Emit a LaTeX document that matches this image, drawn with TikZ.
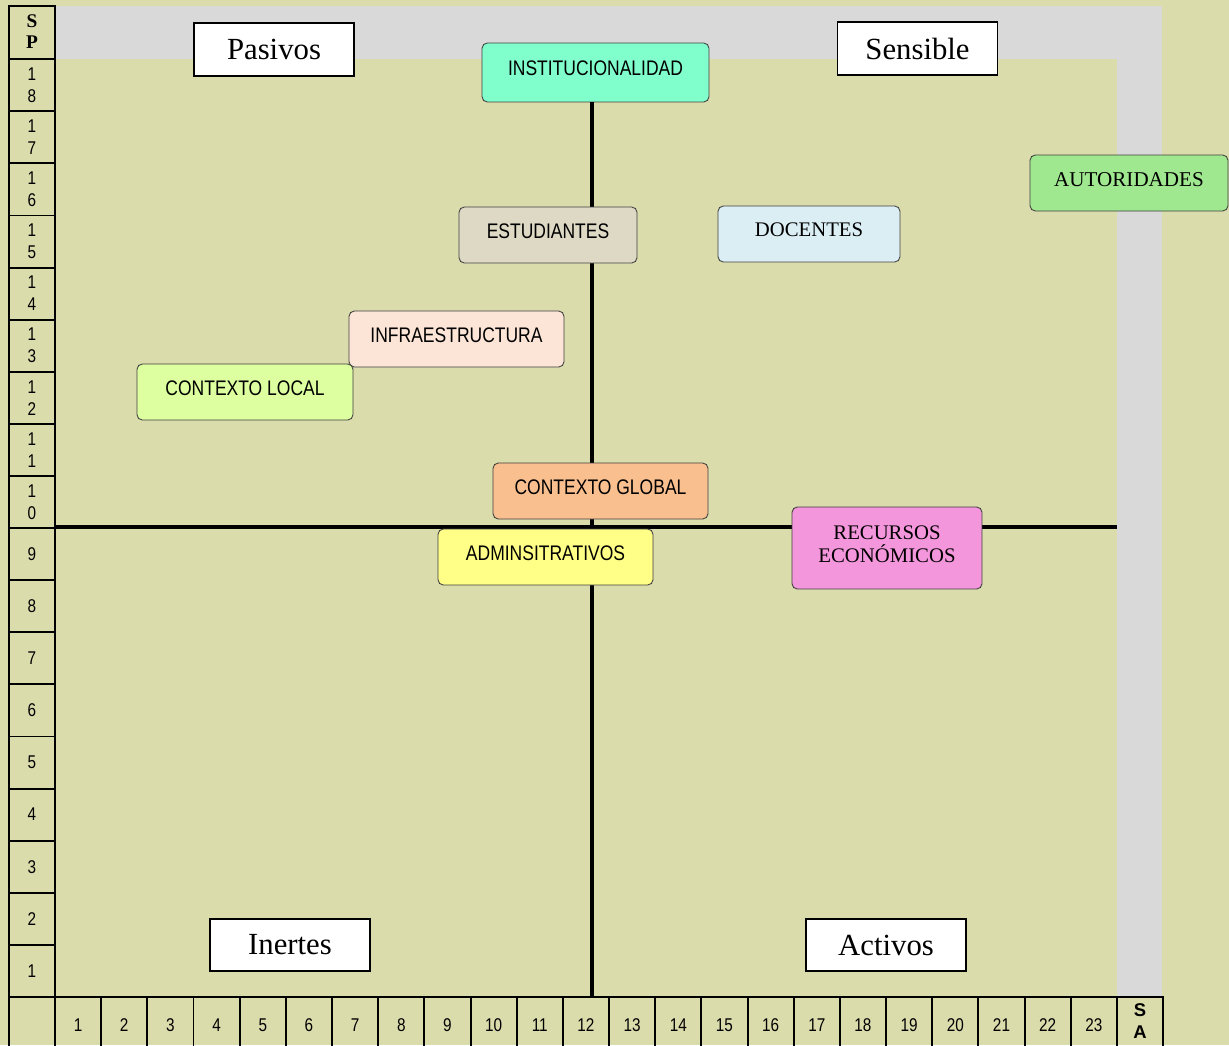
\documentclass[tikz,border=0pt]{standalone}
\usepackage{fontspec}
\setmainfont{Liberation Serif}
\newfontfamily\narrowsans[FakeStretch=0.83]{Liberation Sans}
\newfontfamily\plainsans{Liberation Sans}
\usepackage{xcolor}

\definecolor{olivebg}{RGB}{219,220,172}
\definecolor{greyframe}{RGB}{217,217,217}
\definecolor{instcol}{RGB}{128,255,204}
\definecolor{autorcol}{RGB}{160,232,144}
\definecolor{estudcol}{RGB}{221,217,196}
\definecolor{docencol}{RGB}{219,238,244}
\definecolor{infracol}{RGB}{252,229,214}
\definecolor{localcol}{RGB}{221,255,160}
\definecolor{globalcol}{RGB}{250,191,143}
\definecolor{admincol}{RGB}{255,255,136}
\definecolor{recurcol}{RGB}{244,150,220}

\tikzset{
  cell/.style={draw=black, line width=1.1pt},
  num/.style={inner sep=0pt, align=center, font=\narrowsans\fontsize{10.5}{12.5}\selectfont},
  quadrant/.style={draw=black, line width=1pt, fill=white, inner sep=0pt,
    minimum width=3.2cm, minimum height=1.05cm, font=\fontsize{17.5}{20}\selectfont},
  actor/.style={draw=black!75, rounded corners=3pt, line width=0.5pt, inner sep=0pt,
    minimum height=1.12cm, align=center, text depth=4.5pt},
  sanslabel/.style={font=\narrowsans\fontsize{12}{14}\selectfont},
  seriflabel/.style={font=\fontsize{11.8}{13.5}\selectfont},
  axis/.style={draw=black, line width=2.3pt}
}

\begin{document}
\begin{tikzpicture}[x=0.02cm, y=-0.02cm]
    \useasboundingbox (0,0) rectangle (1229,1045);
    % Background
    \fill[olivebg] (0,0) rectangle (1229,1045);
    \fill[greyframe] (55,6) rectangle (1162,997);
    \fill[olivebg] (55,59) rectangle (1117,997);

    % Left scale
    \draw[cell] (9,6) rectangle (55,59);
    \node[num, font=\bfseries\fontsize{11}{12}\selectfont] (sp) at (32,32) {S\\P};
    \foreach \i in {1,...,18} {
        \draw[cell] (9,{997-52.1*\i}) rectangle (55,{997-52.1*(\i-1)});
    }
    \foreach \i in {1,...,9} {
        \node[num] (r\i) at (32,{997-52.1*\i+26}) {\i};
    }
    \foreach \i/\d in {10/0,11/1,12/2,13/3,14/4,15/5,16/6,17/7,18/8} {
        \node[num] (r\i) at (32,{997-52.1*\i+26}) {1\\\d};
    }

    % Bottom scale
    \draw[cell] (9,997) rectangle (55,1050);
    \foreach \j in {1,...,24} {
        \draw[cell] ({55+46.17*(\j-1)},997) rectangle ({55+46.17*\j},1050);
    }
    \foreach \j in {1,...,23} {
        \node[num] (c\j) at ({55+46.17*(\j-0.5)},1025) {\j};
    }
    \node[num, font=\plainsans\bfseries\fontsize{10.5}{12}\selectfont] (sa) at ({55+46.17*23.5},1021) {S\\A};

    % Axes
    \coordinate (vbot) at (592,997);
    \coordinate (hleft) at (55,527);
    \coordinate (hright) at (1117,527);
    \node[actor, sanslabel, fill=instcol, minimum width=4.54cm, minimum height=1.18cm] (inst) at (595.5,72.5) {INSTITUCIONALIDAD};
    \draw[axis] (inst.south -| vbot) -- (vbot);
    \draw[axis] (hleft) -- (hright);

    % Quadrant labels
    \node[quadrant] (pasivos) at (274,49.5) {Pasivos};
    \node[quadrant] (sensible) at (917.5,48.5) {Sensible};
    \node[quadrant] (inertes) at (290,945) {Inertes};
    \node[quadrant] (activos) at (886,945) {Activos};

    % Actors
    \node[actor, seriflabel, fill=autorcol, minimum width=3.96cm, font=\fontsize{12}{14}\selectfont] (autor) at (1129,183) {AUTORIDADES};
    \node[actor, sanslabel, fill=estudcol, minimum width=3.56cm] (estud) at (548,235) {ESTUDIANTES};
    \node[actor, seriflabel, fill=docencol, minimum width=3.64cm] (docen) at (809,234) {DOCENTES};
    \node[actor, sanslabel, fill=infracol, minimum width=4.30cm] (infra) at (456.5,339) {INFRAESTRUCTURA};
    \node[actor, sanslabel, fill=localcol, minimum width=4.32cm] (clocal) at (245,392) {CONTEXTO LOCAL};
    \node[actor, sanslabel, fill=globalcol, minimum width=4.30cm] (cglobal) at (600.5,491) {CONTEXTO GLOBAL};
    \node[actor, sanslabel, fill=admincol, minimum width=4.30cm] (admin) at (545.5,557) {ADMINSITRATIVOS};
    \node[actor, seriflabel, fill=recurcol, minimum width=3.80cm, minimum height=1.64cm] (recur) at (887,548) {RECURSOS\\ECONÓMICOS};
\end{tikzpicture}
\end{document}
